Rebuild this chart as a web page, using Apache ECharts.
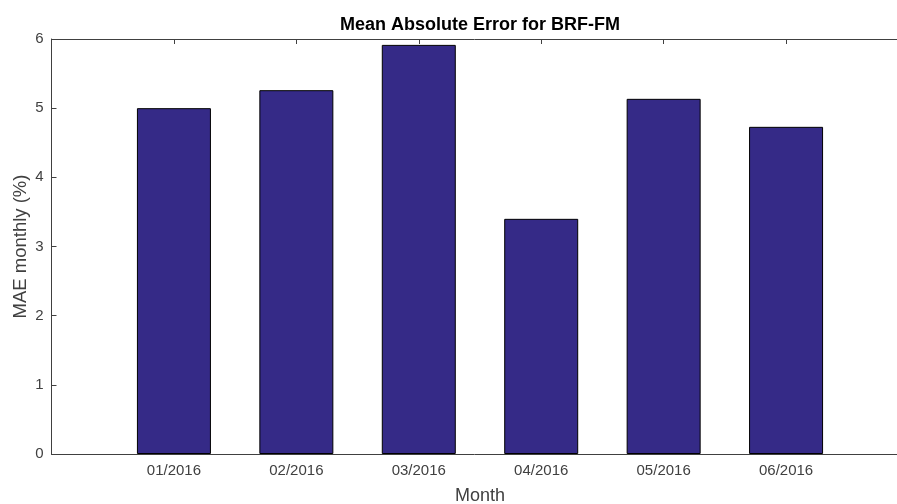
<!DOCTYPE html>
<html>
<head>
<meta charset="utf-8">
<script src="https://cdn.jsdelivr.net/npm/echarts@6/dist/echarts.min.js"></script>
<style>html,body{margin:0;padding:0;background:#fff;overflow:hidden}#c{width:897px;height:504px}</style>
</head>
<body>
<div id="c"></div>
<script>
var months = ['01/2016','02/2016','03/2016','04/2016','05/2016','06/2016'];
var maeValues = [5.00, 5.26, 5.915, 3.40, 5.135, 4.73];
var yTicks = [0,1,2,3,4,5,6];

var chart = echarts.init(document.getElementById('c'), null, {renderer:'canvas'});
var axisColor = '#404040';
var font = 'Liberation Sans, Arial, Helvetica, sans-serif';
var data = months.map(function(m,i){ return [i+1, maeValues[i]]; });
function xAxisBase(pos, showLabel){
  return {
    type:'value', position:pos, min:0, max:months.length+1, interval:1,
    axisLine:{show:true, onZero:false, lineStyle:{color:axisColor, width:1}},
    axisTick:{show:true, inside:true, length:5, lineStyle:{color:axisColor}},
    splitLine:{show:false},
    axisLabel:{show:showLabel, color:axisColor, fontFamily:font, fontSize:15, margin:9,
      formatter:function(v){ var i=Math.round(v)-1; return (i>=0 && i<months.length)?months[i]:''; }},
    name: showLabel ? 'Month' : '', nameLocation:'middle', nameGap:33, nameMoveOverlap:false,
    nameTextStyle:{color:axisColor, fontFamily:font, fontSize:18}
  };
}
chart.setOption({
  animation:false,
  backgroundColor:'#fff',
  title:{text:'Mean Absolute Error for BRF-FM', left:475, textAlign:'center', top:11,
    textStyle:{fontFamily:font, fontSize:18, fontWeight:'bold', color:'#000'}},
  grid:{left:51.5, top:39, width:857, height:415, outerBoundsMode:'none', containLabel:false},
  xAxis:[xAxisBase('bottom', true), xAxisBase('top', false)],
  yAxis:{type:'value', min:yTicks[0], max:yTicks[yTicks.length-1], interval:1,
    axisLine:{show:true, lineStyle:{color:axisColor}},
    axisTick:{show:true, inside:true, length:5, lineStyle:{color:axisColor}},
    splitLine:{show:false},
    axisLabel:{color:axisColor, fontFamily:font, fontSize:15, margin:8},
    name:'MAE monthly (%)', nameLocation:'middle', nameRotate:90, nameGap:21, nameMoveOverlap:false,
    nameTextStyle:{color:axisColor, fontFamily:font, fontSize:18.5}
  },
  series:[{type:'bar', data:data, barWidth:74, xAxisIndex:0,
    itemStyle:{color:'#352a87', borderColor:'#000', borderWidth:1}}]
});
</script>
</body>
</html>
